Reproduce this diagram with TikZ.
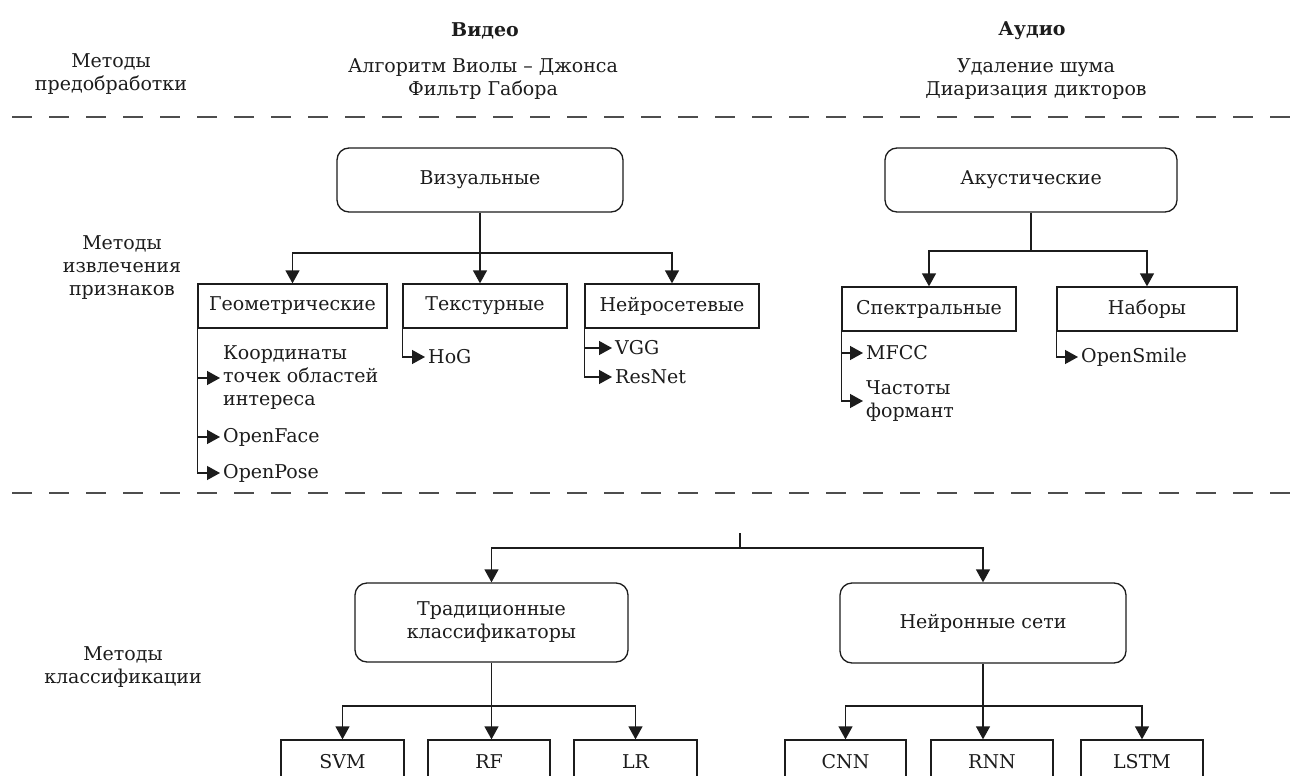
\documentclass[tikz,border=0pt]{standalone}
\usepackage{fontspec}
\setmainfont{DejaVu Serif}
\usetikzlibrary{arrows.meta}

\definecolor{inkgray}{HTML}{1C1C1C}
\definecolor{sepgray}{HTML}{4D4D4D}

\tikzset{
  grpbox/.style={draw=inkgray, line width=1.3pt, rounded corners=12pt,
                 minimum height=64pt, align=center},
  catbox/.style={draw=inkgray, line width=1.3pt, minimum height=44pt},
  leaf/.style={anchor=west, inner sep=3pt, align=left},
  lbl/.style={align=center, inner sep=0pt},
  arr/.style={draw=inkgray, line width=1.3pt, -{Triangle[length=13pt,width=14pt]}},
  lnk/.style={draw=inkgray, line width=1.3pt},
  sep/.style={draw=sepgray, line width=1.8pt, dash pattern=on 20pt off 17pt}
}

\begin{document}
\begin{tikzpicture}[x=1pt, y=-1pt, font=\fontsize{19}{23}\selectfont, text=inkgray]
  \useasboundingbox (0,0) rectangle (1293,776);
  \clip (0,0) rectangle (1293,776);

  % headers
  \node[lbl] (vid) at (485,31) {\bfseries Видео};
  \node[lbl] (aud) at (1032,31) {\bfseries Аудио};
  \node[lbl] (prep) at (111,74) {Методы\\предобработки};
  \node[lbl] (vidprep) at (483,79) {Алгоритм Виолы – Джонса\\Фильтр Габора};
  \node[lbl] (audprep) at (1036,79) {Удаление шума\\Диаризация дикторов};
  \draw[sep] (12,117) -- (1293,117);

  % features
  \node[lbl] (feat) at (122,268) {Методы\\извлечения\\признаков};

  \node[grpbox, minimum width=286pt] (viz) at (480,180) {Визуальные};
  \node[grpbox, minimum width=292pt] (acu) at (1031,180) {Акустические};

  \node[catbox, minimum width=189pt] (geo) at (292.5,306) {Геометрические};
  \node[catbox, minimum width=164pt] (tex) at (485,306) {Текстурные};
  \node[catbox, minimum width=174pt] (neu) at (672,306) {Нейросетевые};
  \node[catbox, minimum width=174pt] (spec) at (929,309) {Спектральные};
  \node[catbox, minimum width=180pt] (nab) at (1147,309) {Наборы};

  \coordinate (vizfork) at (480,253);
  \draw[lnk] (viz.south) -- (vizfork);
  \draw[arr] (vizfork) -| (geo.north);
  \draw[arr] (vizfork) -- (vizfork |- tex.north);
  \draw[arr] (vizfork) -| (neu.north);

  \coordinate (acufork) at (1031,251);
  \draw[lnk] (acu.south -| acufork) -- (acufork);
  \draw[arr] (acufork) -| (spec.north);
  \draw[arr] (acufork) -| (nab.north);

  \node[leaf] (pts) at (220,378) {Координаты\\точек областей\\интереса};
  \node[leaf] (oface) at (220,437) {OpenFace};
  \node[leaf] (opose) at (220,473) {OpenPose};
  \draw[arr] (geo.south west) |- (opose.west);
  \draw[arr] (geo.south west |- pts.west) -- (pts.west);
  \draw[arr] (geo.south west |- oface.west) -- (oface.west);

  \node[leaf] (hog) at (425,357) {HoG};
  \draw[arr] (tex.south west) |- (hog.west);

  \node[leaf] (vgg) at (612,348) {VGG};
  \node[leaf] (resnet) at (612,377) {ResNet};
  \draw[arr] (neu.south west) |- (resnet.west);
  \draw[arr] (neu.south west |- vgg.west) -- (vgg.west);

  \node[leaf] (mfcc) at (863,353) {MFCC};
  \node[leaf] (formant) at (863,401) {Частоты\\формант};
  \draw[arr] (spec.south west) |- (formant.west);
  \draw[arr] (spec.south west |- mfcc.west) -- (mfcc.west);

  \node[leaf] (osmile) at (1078,357) {OpenSmile};
  \draw[arr] (nab.south west) |- (osmile.west);

  \draw[sep] (12,493) -- (1293,493);

  % classification
  \node[lbl] (cls) at (123,667) {Методы\\классификации};

  \node[grpbox, minimum width=273pt, minimum height=79pt] (trad) at (491.5,622.5) {Традиционные\\классификаторы};
  \node[grpbox, minimum width=286pt, minimum height=80pt] (nn) at (983,623) {Нейронные сети};

  \coordinate (clsroot) at (740,533);
  \coordinate (clsfork) at (740,548);
  \draw[lnk] (clsroot) -- (clsfork);
  \draw[arr] (clsfork) -| (trad.north);
  \draw[arr] (clsfork) -| (nn.north);

  \node[catbox, minimum width=123pt] (svm) at (342.5,762) {SVM};
  \node[catbox, minimum width=122pt] (rf) at (489,762) {RF};
  \node[catbox, minimum width=123pt] (lr) at (635.5,762) {LR};
  \node[catbox, minimum width=121pt] (cnn) at (845.5,762) {CNN};
  \node[catbox, minimum width=122pt] (rnn) at (992,762) {RNN};
  \node[catbox, minimum width=122pt] (lstm) at (1142,762) {LSTM};

  \coordinate (tradfork) at (491.5,706);
  \draw[lnk] (trad.south) -- (tradfork);
  \draw[arr] (tradfork) -| (svm.north);
  \draw[arr] (tradfork) -- (tradfork |- rf.north);
  \draw[arr] (tradfork) -| (lr.north);

  \coordinate (nnfork) at (983,706);
  \draw[lnk] (nn.south) -- (nnfork);
  \draw[arr] (nnfork) -| (cnn.north);
  \draw[arr] (nnfork) -- (nnfork |- rnn.north);
  \draw[arr] (nnfork) -| (lstm.north);
\end{tikzpicture}
\end{document}
